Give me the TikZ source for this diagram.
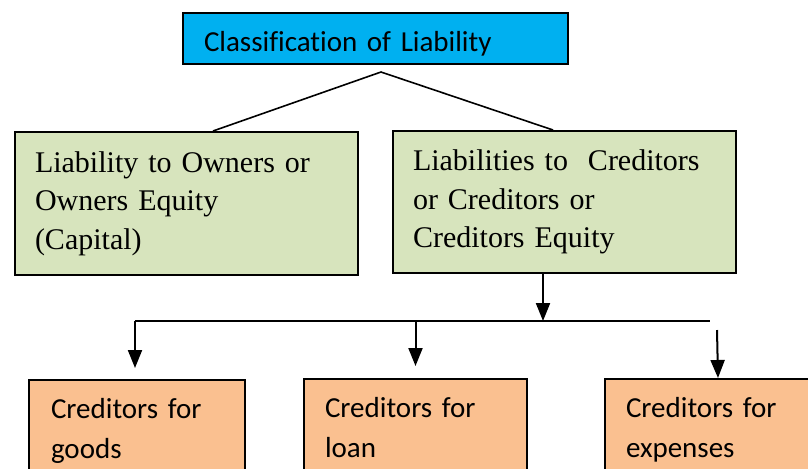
\documentclass[tikz,border=0pt]{standalone}
\usepackage{fontspec}
\setmainfont{Liberation Serif}
\newfontfamily\calibfont[Ligatures=NoCommon]{Carlito}
\usepackage{xcolor}
\usetikzlibrary{positioning,calc,arrows.meta}
\definecolor{headblue}{HTML}{00B0F0}
\definecolor{groupgreen}{HTML}{D7E4BD}
\definecolor{itemorange}{HTML}{FAC090}

\begin{document}
\begin{tikzpicture}[x=0.5pt, y=-0.5pt,
		head/.style={rectangle, draw=black, fill=headblue, line width=1pt, anchor=north west, text width=171.5pt, align=left, inner xsep=10.5pt, minimum height=25.5pt, text height=12.5pt, text depth=0pt, font=\calibfont\fontsize{14.5}{17}\selectfont},
		group/.style={rectangle, draw=black, fill=groupgreen, line width=1pt, anchor=north west, text width=151.5pt, align=left, inner xsep=10pt, minimum height=71.5pt, font=\fontsize{15}{19.25}\selectfont},
		item/.style={rectangle, draw=black, fill=itemorange, line width=1pt, anchor=north west, text width=#1, align=left, inner xsep=10.5pt, inner ysep=9pt, font=\calibfont\fontsize{14.5}{20}\selectfont},
		arr/.style={-{Triangle[length=9pt, width=7pt]}, line width=1pt},
		link/.style={line width=0.8pt},
		]
		\useasboundingbox (0,0) rectangle (808,468);

		%Main Nodes
		\node[head]	(title)		at (182,12)		{Classification of Liability};

		%Owners and Creditors
		\node[group]	(owners)	at (14,131)		{Liability to Owners or\\Owners Equity\\(Capital)};
		\node[group, minimum height=71pt]	(creditors)	at (392,130)	{Liabilities to\ \ Creditors\\or Creditors or\\Creditors Equity};
		\coordinate (apex) at (381,72);
		\draw[link]	($(owners.north west)+(199,0)$) -- (apex) -- ($(creditors.north west)+(161,0)$);

		%Kinds of Creditors
		\node[item=86pt, inner xsep=11pt]	(goods)		at (28,379)		{Creditors for\\goods};
		\node[item=90.5pt]	(loan)		at (303,378)	{Creditors for\\loan};
		\node[item=92pt]	(expenses)	at (604,378)	{Creditors for\\expenses};

		\coordinate (drop)	at ($(creditors.south west)+(151,0)$);
		\coordinate (bus-w)	at (135,321);
		\coordinate (bus-e)	at (710,321);
		\coordinate (exp-top)	at (717,330);
		\draw[arr]	(drop) -- (drop |- bus-w);
		\draw[line width=1pt]	(bus-w) -- (bus-e);
		\draw[arr, shorten >=5.5pt]	(bus-w) -- (bus-w |- goods.north);
		\draw[arr, shorten >=6pt]	(loan.north |- bus-w) -- (loan.north);
		\draw[arr]	(exp-top) -- (expenses.north);
	\end{tikzpicture}
\end{document}
